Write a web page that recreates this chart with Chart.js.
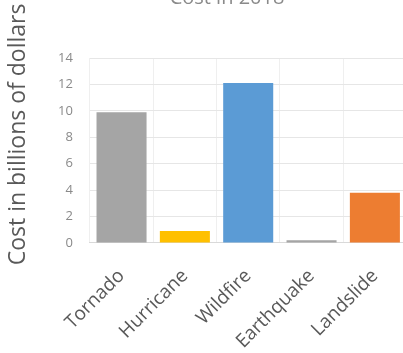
<!DOCTYPE html>
<html>
<head>
<meta charset="utf-8">
<script src="https://cdn.jsdelivr.net/npm/chart.js@4/dist/chart.umd.min.js"></script>
<style>
  html, body { margin: 0; padding: 0; background: #fff; overflow: hidden; width: 403px; height: 353px; }
  #wrap { position: absolute; left: 0; top: -14px; width: 413px; height: 395px; }
</style>
</head>
<body>
<div id="wrap"><canvas id="costChart"></canvas></div>
<script>
// Chart data
const categories = ['Tornado', 'Hurricane', 'Wildfire', 'Earthquake', 'Landslide'];
const costs = [9.9, 0.9, 12.1, 0.2, 3.8];
const barColors = ['#a5a5a5', '#ffc000', '#5b9bd5', '#a5a5a5', '#ed7d31'];
const yTicks = [0, 2, 4, 6, 8, 10, 12, 14];
const yAxisTitle = 'Cost in billions of dollars';

// y axis title sits a bit above the plot's middle, like the original
const yTitlePlugin = {
  id: 'yTitle',
  afterDraw(chart) {
    const c = chart.ctx;
    const area = chart.chartArea;
    c.save();
    c.translate(18, (area.top + area.bottom) / 2 - 16);
    c.rotate(-Math.PI / 2);
    c.font = '23px "Open Sans"';
    c.fillStyle = '#595959';
    c.textAlign = 'center';
    c.textBaseline = 'middle';
    c.fillText(yAxisTitle, 0, 0);
    c.restore();
  }
};

const ctx = document.getElementById('costChart').getContext('2d');

new Chart(ctx, {
  type: 'bar',
  data: {
    labels: categories,
    datasets: [{
      label: 'Cost',
      data: costs,
      backgroundColor: barColors,
      barPercentage: 0.79,
      categoryPercentage: 1
    }]
  },
  options: {
    responsive: true,
    maintainAspectRatio: false,
    animation: false,
    layout: { padding: { left: 41, right: 0, top: 0, bottom: 6 } },
    plugins: {
      legend: { display: false },
      tooltip: { enabled: false },
      title: {
        display: true,
        text: 'Cost in 2018',
        color: '#8a8a8a',
        font: { family: 'Open Sans', size: 20, weight: 'normal' },
        padding: { top: 0, bottom: 48 }
      }
    },
    scales: {
      x: {
        grid: { offset: true, color: '#efefef', drawTicks: false },
        border: { color: '#d9d9d9' },
        ticks: {
          color: '#595959',
          font: { family: 'Open Sans', size: 19 },
          maxRotation: 45,
          minRotation: 45,
          padding: 22
        }
      },
      y: {
        min: 0,
        max: 14,
        afterBuildTicks: axis => { axis.ticks = yTicks.map(v => ({ value: v })); },
        grid: { color: '#e6e6e6', drawTicks: false },
        border: { display: false },
        ticks: {
          color: '#8a8a8a',
          font: { family: 'Open Sans', size: 13 },
          padding: 17
        }
      }
    }
  },
  plugins: [yTitlePlugin]
});
</script>
</body>
</html>
